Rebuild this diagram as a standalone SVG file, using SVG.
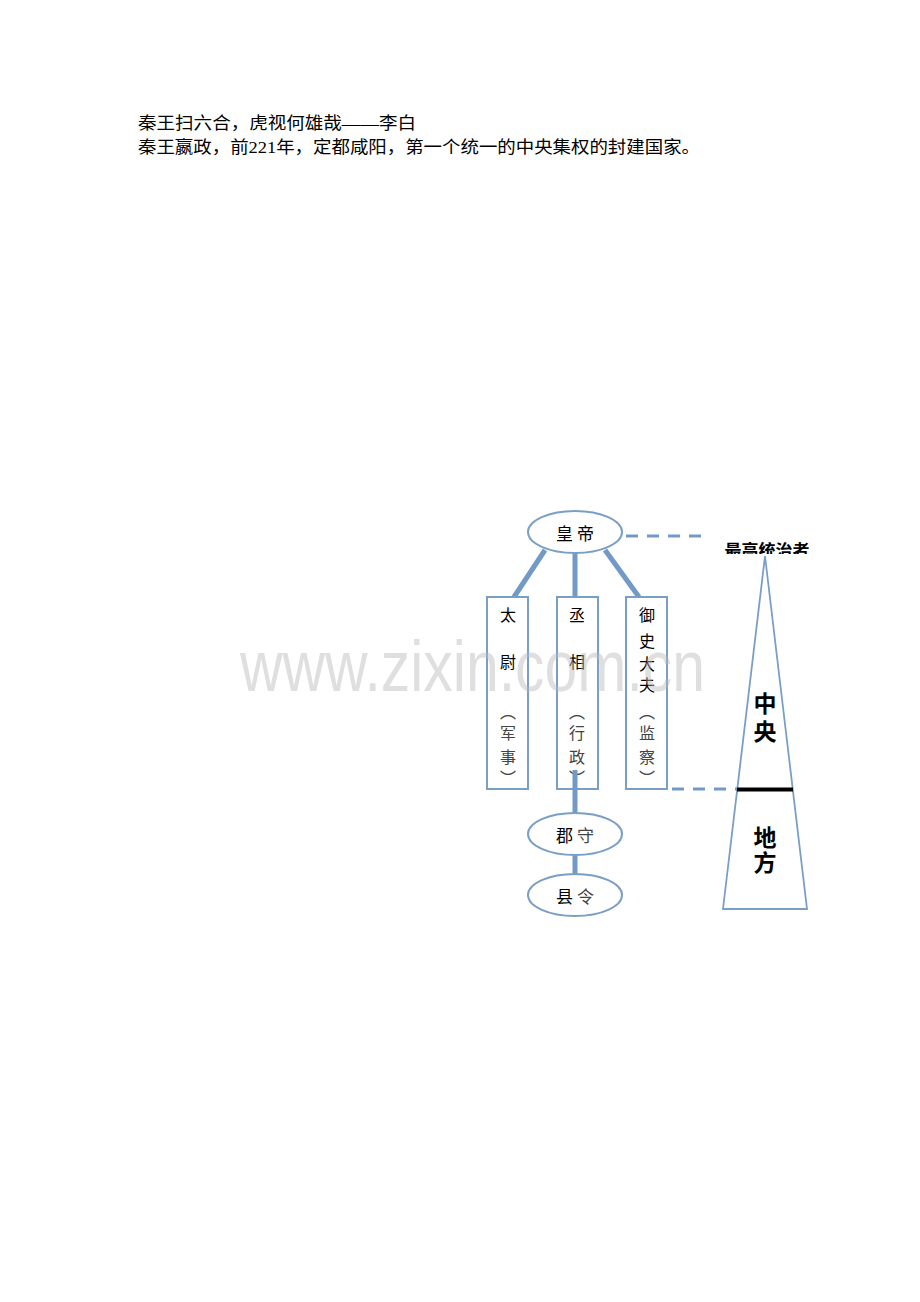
<svg xmlns="http://www.w3.org/2000/svg" width="920" height="1302" viewBox="0 0 920 1302">
<defs>
<style>
.t{font-family:"Noto Sans CJK SC","Liberation Sans",sans-serif;fill:#000;}
.h{font-family:"Liberation Serif","Noto Sans CJK SC",serif;font-size:17px;fill:#000;}
.n{fill:#fff;stroke:#7a9fc6;stroke-width:2;}
.b{fill:#fff;stroke:#7a9fc6;stroke-width:2;}
.c{stroke:#7399c6;stroke-width:5;fill:none;}
.d{stroke:#7399c6;stroke-width:3;fill:none;stroke-dasharray:12 9;}
.v{font-size:16px;text-anchor:middle;}
.g{fill:#444;}
</style>
<clipPath id="clipTop"><rect x="700" y="530" width="130" height="24"/></clipPath>
</defs>
<rect width="920" height="1302" fill="#fff"/>
<g id="intro">
<text class="h" x="138" y="129" textLength="278" lengthAdjust="spacingAndGlyphs">秦王扫六合，虎视何雄哉——李白</text>
<text class="h" x="138" y="153" textLength="562" lengthAdjust="spacingAndGlyphs">秦王嬴政，前221年，定都咸阳，第一个统一的中央集权的封建国家。</text>
</g>
<g id="connectors">
<line class="c" x1="545" y1="550" x2="514" y2="597"/>
<line class="c" x1="575" y1="553" x2="575" y2="597"/>
<line class="c" x1="605" y1="550" x2="639" y2="597"/>
<line class="d" x1="626" y1="536" x2="704" y2="536"/>
<line class="d" x1="672" y1="789" x2="737" y2="789"/>
</g>
<g id="taiwei">
<rect class="b" x="487" y="597" width="41" height="192"/>
<text class="t v" x="508" y="621">太</text>
<text class="t v" x="508" y="668">尉</text>
<text class="t v g" x="508" y="718">︵</text>
<text class="t v g" x="508" y="739">军</text>
<text class="t v g" x="508" y="763">事</text>
<text class="t v g" x="508" y="784">︶</text>
</g>
<g id="chengxiang">
<rect class="b" x="557" y="597" width="41" height="192"/>
<text class="t v" x="577" y="621">丞</text>
<text class="t v" x="577" y="668">相</text>
<text class="t v g" x="577" y="718">︵</text>
<text class="t v g" x="577" y="739">行</text>
<text class="t v g" x="577" y="763">政</text>
<text class="t v g" x="577" y="784">︶</text>
</g>
<g id="yushi">
<rect class="b" x="626" y="597" width="41" height="192"/>
<text class="t v" x="647" y="621">御</text>
<text class="t v" x="647" y="647">史</text>
<text class="t v" x="647" y="670">大</text>
<text class="t v" x="647" y="691">夫</text>
<text class="t v g" x="647" y="718">︵</text>
<text class="t v g" x="647" y="739">监</text>
<text class="t v g" x="647" y="763">察</text>
<text class="t v g" x="647" y="784">︶</text>
</g>
<g id="connectors2">
<line class="c" x1="575" y1="770" x2="575" y2="813"/>
<line class="c" x1="575" y1="855" x2="575" y2="874"/>
</g>
<g id="huangdi">
<ellipse class="n" cx="575" cy="532" rx="47" ry="21"/>
<text class="t" x="575" y="540" font-size="17" text-anchor="middle">皇 帝</text>
</g>
<g id="junshou">
<ellipse class="n" cx="575" cy="834" rx="47" ry="21"/>
<text class="t" x="575" y="842" font-size="17" text-anchor="middle">郡 <tspan fill="#444">守</tspan></text>
</g>
<g id="xianling">
<ellipse class="n" cx="575" cy="895" rx="47" ry="21"/>
<text class="t" x="575" y="903" font-size="17" text-anchor="middle">县 <tspan fill="#444">令</tspan></text>
</g>
<g id="pyramid">
<polygon points="765,556 723,909 807,909" fill="#fff" stroke="#7a9fc6" stroke-width="1.8"/>
<line x1="737" y1="789.5" x2="793" y2="789.5" stroke="#000" stroke-width="4"/>
<text class="t" x="765" y="712" font-size="23" font-weight="bold" text-anchor="middle">中</text>
<text class="t" x="765" y="740" font-size="23" font-weight="bold" text-anchor="middle">央</text>
<text class="t" x="765" y="846" font-size="23" font-weight="bold" text-anchor="middle">地</text>
<text class="t" x="765" y="871" font-size="23" font-weight="bold" text-anchor="middle">方</text>
<text class="t" x="767" y="557" font-size="17" font-weight="bold" text-anchor="middle" clip-path="url(#clipTop)">最高统治者</text>
</g>
<g id="watermark">
<text x="240" y="691" font-family="Liberation Sans,Arial,sans-serif" font-size="72" fill="#b8b8b8" fill-opacity="0.45" textLength="465" lengthAdjust="spacingAndGlyphs">www.zixin.com.cn</text>
</g>
</svg>
